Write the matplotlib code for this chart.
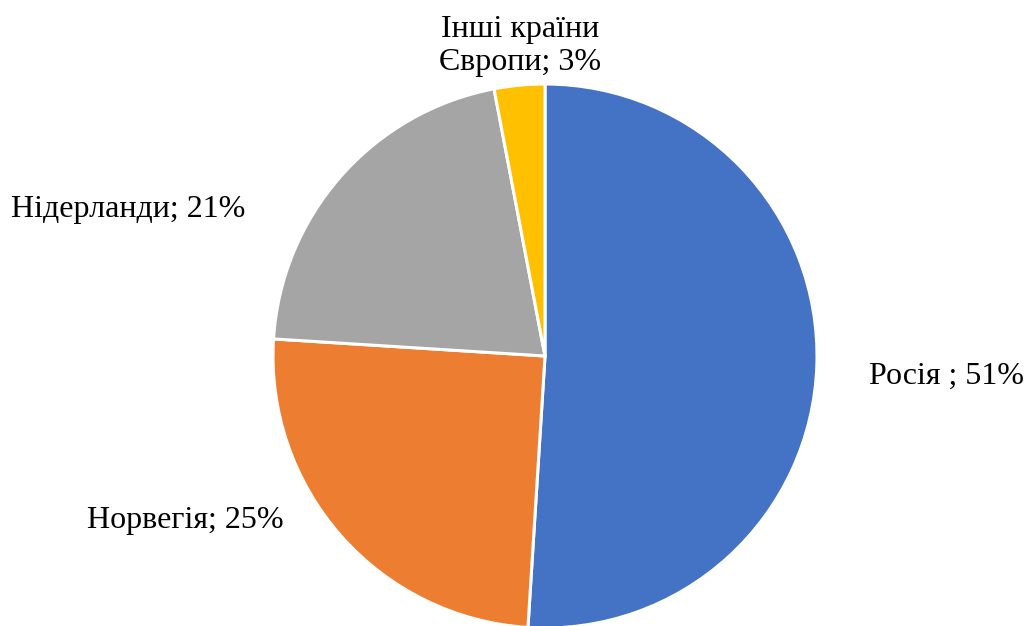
import matplotlib
matplotlib.use("Agg")
import matplotlib.pyplot as plt

# Gas import structure by country of origin
countries = ["Росія ", "Норвегія", "Нідерланди", "Інші країни\nЄвропи"]
shares = [51, 25, 21, 3]
colors = ["#4472C4", "#ED7D31", "#A5A5A5", "#FFC000"]

# label anchor points (data coords, pie radius = 1)
label_xy = [(1.475, -0.075), (-1.323, -0.605), (-1.531, 0.538), (-0.092, 1.14)]

plt.rcParams["font.family"] = ["Liberation Serif", "DejaVu Serif"]

fig = plt.figure(figsize=(10.32, 6.26), dpi=100)
ax = fig.add_axes([0, 0, 1, 1])
R = 272.0
cx, cy = 545.0, 356.0

ax.pie(shares, colors=colors, startangle=90, counterclock=False,
       radius=1.0, center=(0, 0), frame=True,
       wedgeprops=dict(edgecolor="white", linewidth=2.2))
ax.set_aspect("equal")
ax.set_xlim(-cx / R, (1032 - cx) / R)
ax.set_ylim(-(626 - cy) / R, cy / R)
ax.axis("off")

for name, val, (x, y) in zip(countries, shares, label_xy):
    ax.text(x, y, f"{name}; {val}%", ha="center", va="center",
            fontsize=23, color="black", linespacing=1.17)

fig.savefig("out.png", dpi=100, facecolor="white")
